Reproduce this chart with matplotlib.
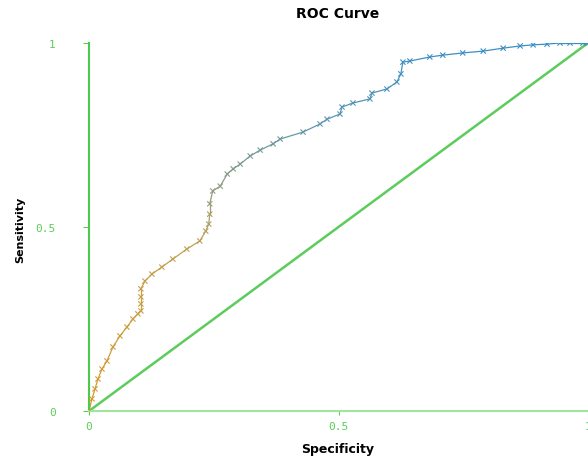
import matplotlib.pyplot as plt
import numpy as np
from matplotlib.collections import LineCollection
from matplotlib.colors import LinearSegmentedColormap, Normalize

# ROC points (x axis labelled "Specificity")
fpr = [0.0, 0.006, 0.012, 0.018, 0.026, 0.036, 0.048, 0.062, 0.076, 0.088,
       0.098, 0.104, 0.104, 0.104, 0.104, 0.112, 0.126, 0.146, 0.168, 0.196,
       0.222, 0.234, 0.240, 0.242, 0.242, 0.248, 0.263, 0.277, 0.289, 0.303,
       0.323, 0.343, 0.369, 0.383, 0.429, 0.463, 0.477, 0.503, 0.507, 0.529,
       0.563, 0.567, 0.597, 0.617, 0.625, 0.629, 0.643, 0.683, 0.709, 0.749,
       0.790, 0.830, 0.864, 0.890, 0.918, 0.944, 0.964, 0.990, 1.0]
tpr = [0.0, 0.033, 0.060, 0.087, 0.114, 0.136, 0.174, 0.204, 0.228, 0.250,
       0.264, 0.272, 0.291, 0.310, 0.332, 0.353, 0.372, 0.391, 0.413, 0.440,
       0.462, 0.489, 0.508, 0.535, 0.563, 0.598, 0.611, 0.644, 0.658, 0.671,
       0.693, 0.709, 0.726, 0.739, 0.758, 0.780, 0.793, 0.807, 0.826, 0.837,
       0.848, 0.864, 0.875, 0.894, 0.916, 0.948, 0.951, 0.962, 0.967, 0.973,
       0.978, 0.986, 0.992, 0.995, 0.997, 1.0, 1.0, 1.0, 1.0]
ticks = [0, 0.5, 1]
tick_labels = ['0', '0.5', '1']

green = '#5ccc5c'
cmap = LinearSegmentedColormap.from_list(
    'roc', [(0.0, '#d89a2c'), (0.45, '#c0a050'), (0.62, '#8c9c84'),
            (0.8, '#5a96b4'), (1.0, '#3b8ec4')])
norm = Normalize(0, 1)

fig = plt.figure(figsize=(5.88, 4.6), dpi=100)
ax = fig.add_axes([89/588, 48/460, 499/588, 368/460])

# diagonal reference line
ax.plot([0, 1], [0, 1], color=green, linewidth=1.8, zorder=1)

x = np.array(fpr); y = np.array(tpr)
pts = np.column_stack([x, y]).reshape(-1, 1, 2)
segs = np.concatenate([pts[:-1], pts[1:]], axis=1)
lc = LineCollection(segs, cmap=cmap, norm=norm, linewidth=0.9, zorder=2)
lc.set_array((y[:-1] + y[1:]) / 2)
ax.add_collection(lc)
ax.scatter(x, y, c=y, cmap=cmap, norm=norm, marker='x', s=14,
           linewidths=0.8, zorder=3)

ax.set_xlim(0, 1)
ax.set_ylim(0, 1)
for s in ['top', 'right']:
    ax.spines[s].set_visible(False)
ax.spines['left'].set_color('#4cc84c')
ax.spines['left'].set_linewidth(1.5)
ax.spines['bottom'].set_color('#a0e4a0')
ax.spines['bottom'].set_linewidth(1.5)

ax.set_xticks(ticks)
ax.set_xticklabels(tick_labels)
ax.set_yticks(ticks)
ax.set_yticklabels(tick_labels)
ax.tick_params(axis='y', colors=green, length=4, pad=20, labelsize=8)
ax.tick_params(axis='x', colors=green, length=3, pad=4, labelsize=8)
for lab in ax.get_xticklabels() + ax.get_yticklabels():
    lab.set_fontfamily('DejaVu Sans Mono')

fig.text(338/588, 1 - 14/460, 'ROC Curve', fontsize=10, fontweight='bold',
         ha='center', va='center')
fig.text(338/588, 1 - 450/460, 'Specificity', fontsize=9, fontweight='bold',
         ha='center', va='center')
fig.text(20/588, 1 - 230/460, 'Sensitivity', fontsize=8, fontweight='bold',
         ha='center', va='center', rotation=90)

fig.savefig('out.png', dpi=100)
